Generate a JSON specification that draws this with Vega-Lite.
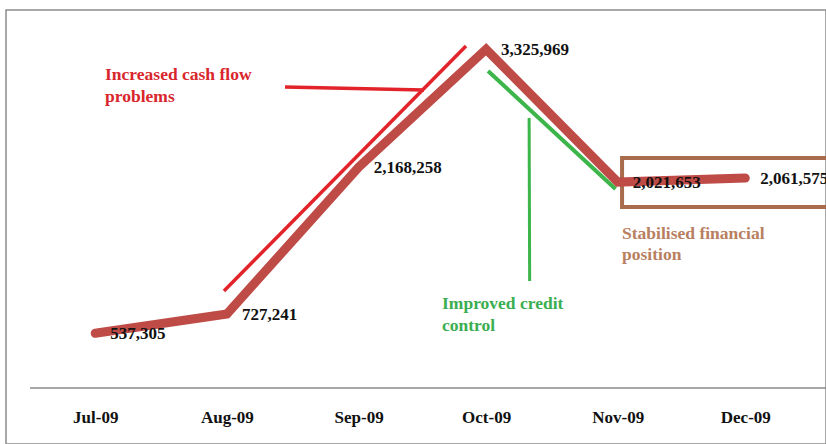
{
  "$schema": "https://vega.github.io/schema/vega-lite/v6.json",
  "width": 820,
  "height": 434,
  "autosize": {"type": "none"},
  "padding": {"left": 6, "top": 10, "right": 0, "bottom": 0},
  "background": "white",
  "config": {"view": {"stroke": "#8c8c8c", "strokeWidth": 1.5}, "font": "Liberation Serif"},
  "datasets": {
    "series": [
      {"d": "2009-07-01T00:00:00Z", "v": 537305},
      {"d": "2009-08-01T00:00:00Z", "v": 727241},
      {"d": "2009-09-01T00:00:00Z", "v": 2168258},
      {"d": "2009-10-01T00:00:00Z", "v": 3325969},
      {"d": "2009-11-01T00:00:00Z", "v": 2021653},
      {"d": "2009-12-01T00:00:00Z", "v": 2061575}
    ],
    "baseline": [{"d": "2009-06-15T16:00:00Z", "d2": "2009-12-25T00:00:00Z", "v": 0}],
    "redDiag": [
      {"d": "2009-07-31T07:00:00Z", "v": 952500},
      {"d": "2009-09-26T06:30:00Z", "v": 3358200}
    ],
    "redLead": [
      {"d": "2009-08-14T16:00:00Z", "v": 2955600},
      {"d": "2009-09-16T09:00:00Z", "v": 2926200}
    ],
    "greenDiag": [
      {"d": "2009-10-01T11:00:00Z", "v": 3112700},
      {"d": "2009-10-31T11:00:00Z", "v": 1954000}
    ],
    "greenLead": [
      {"d": "2009-10-11T03:00:00Z", "v": 2651200},
      {"d": "2009-10-11T06:00:00Z", "v": 1050700}
    ],
    "box": [{"d": "2009-11-02T00:00:00Z", "d2": "2009-12-25T00:00:00Z", "v": 2258400, "v2": 1777300}],
    "noteRed": [{"d": "2009-07-03T07:30:00Z", "v": 3024400, "t": "Increased cash flow\nproblems"}],
    "noteGreen": [{"d": "2009-09-20T15:00:00Z", "v": 775700, "t": "Improved credit\ncontrol"}],
    "noteBrown": [{"d": "2009-11-02T00:00:00Z", "v": 1458200, "t": "Stabilised financial\nposition"}]
  },
  "encoding": {
    "x": {
      "field": "d",
      "type": "temporal",
      "scale": {
        "type": "utc",
        "domain": [
          {"year": 2009, "month": 6, "date": 10, "utc": true},
          {"year": 2009, "month": 12, "date": 20, "utc": true}
        ]
      },
      "axis": {
        "title": null,
        "orient": "bottom",
        "offset": -56,
        "domain": false,
        "ticks": false,
        "grid": false,
        "values": [
          {"year": 2009, "month": 7, "date": 1, "utc": true},
          {"year": 2009, "month": 8, "date": 1, "utc": true},
          {"year": 2009, "month": 9, "date": 1, "utc": true},
          {"year": 2009, "month": 10, "date": 1, "utc": true},
          {"year": 2009, "month": 11, "date": 1, "utc": true},
          {"year": 2009, "month": 12, "date": 1, "utc": true}
        ],
        "format": "%b-%y",
        "labelFont": "Liberation Serif",
        "labelFontWeight": "bold",
        "labelFontSize": 17,
        "labelColor": "#111111",
        "labelPadding": 21,
        "labelFlush": false,
        "labelOverlap": false
      }
    },
    "y": {
      "field": "v",
      "type": "quantitative",
      "scale": {"domain": [-549900, 3711700], "nice": false, "zero": false},
      "axis": null
    }
  },
  "layer": [
    {
      "data": {"name": "baseline"},
      "mark": {"type": "rule", "color": "#8a8a8a", "strokeWidth": 1.5, "clip": true},
      "encoding": {"x2": {"field": "d2"}}
    },
    {
      "data": {"name": "box"},
      "mark": {"type": "rect", "fillOpacity": 0, "stroke": "#a86b4c", "strokeWidth": 4, "clip": true},
      "encoding": {"x2": {"field": "d2"}, "y2": {"field": "v2"}}
    },
    {
      "data": {"name": "redDiag"},
      "mark": {"type": "line", "color": "#e2232a", "strokeWidth": 3.5},
      "encoding": {}
    },
    {
      "data": {"name": "redLead"},
      "mark": {"type": "line", "color": "#e2232a", "strokeWidth": 3.5},
      "encoding": {}
    },
    {
      "data": {"name": "greenDiag"},
      "mark": {"type": "line", "color": "#3cb54a", "strokeWidth": 4},
      "encoding": {}
    },
    {
      "data": {"name": "greenLead"},
      "mark": {"type": "line", "color": "#3cb54a", "strokeWidth": 3},
      "encoding": {}
    },
    {
      "data": {"name": "series"},
      "mark": {"type": "line", "color": "#bf4b47", "strokeWidth": 9, "strokeCap": "round", "strokeJoin": "miter"},
      "encoding": {}
    },
    {
      "data": {"name": "series"},
      "mark": {"type": "text", "align": "left", "baseline": "alphabetic", "dx": 15, "dy": 6, "font": "Liberation Serif", "fontWeight": "bold", "fontSize": 17, "color": "#111111"},
      "encoding": {"text": {"field": "v", "type": "quantitative", "format": ","}}
    },
    {
      "data": {"name": "noteRed"},
      "mark": {"type": "text", "align": "left", "baseline": "alphabetic", "lineBreak": "\n", "lineHeight": 22, "font": "Liberation Serif", "fontWeight": "bold", "fontSize": 17.5, "color": "#d9262c"},
      "encoding": {"text": {"field": "t"}}
    },
    {
      "data": {"name": "noteGreen"},
      "mark": {"type": "text", "align": "left", "baseline": "alphabetic", "lineBreak": "\n", "lineHeight": 22, "font": "Liberation Serif", "fontWeight": "bold", "fontSize": 17.5, "color": "#3aae50"},
      "encoding": {"text": {"field": "t"}}
    },
    {
      "data": {"name": "noteBrown"},
      "mark": {"type": "text", "align": "left", "baseline": "alphabetic", "lineBreak": "\n", "lineHeight": 21, "font": "Liberation Serif", "fontWeight": "bold", "fontSize": 17.5, "color": "#b8805f"},
      "encoding": {"text": {"field": "t"}}
    }
  ]
}
